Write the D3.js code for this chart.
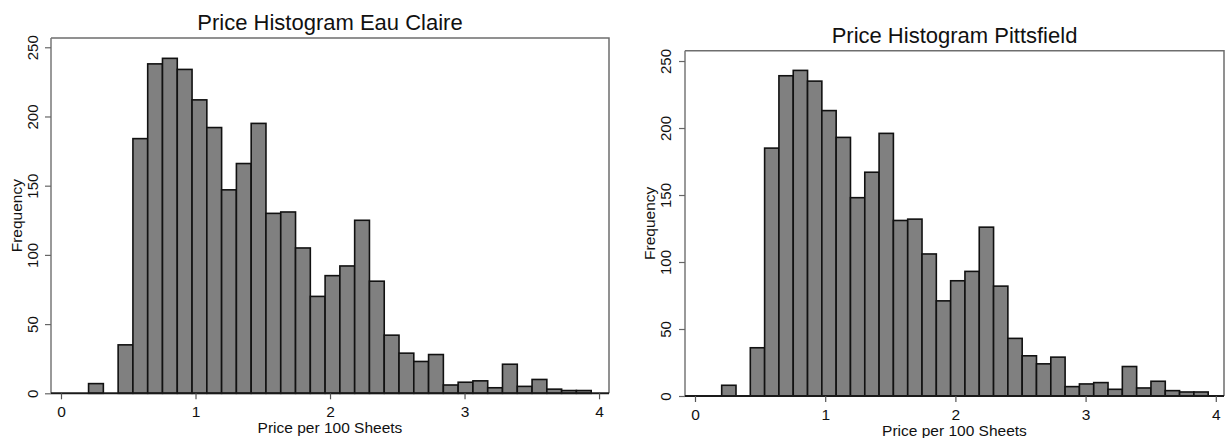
<!DOCTYPE html>
<html>
<head>
<meta charset="utf-8">
<script src="https://cdn.jsdelivr.net/npm/d3@7"></script>
<style>
  body { margin: 0; background: #fff; }
  svg { display: block; font-family: "Liberation Sans", Arial, sans-serif; }
</style>
</head>
<body>
<svg id="chart" width="1225" height="438"></svg>
<script>
// histogram bins: 34 bins starting at 0.205, width ~0.11
const binStart = 0.205;
const binWidth = 0.1099;

const eauClaireCounts = [7, 0, 35, 184, 238, 242, 234, 212, 192, 147, 166, 195, 130, 131, 105, 70, 85,
  92, 125, 81, 42, 29, 23, 28, 6, 8, 9, 4, 21, 5, 10, 3, 2, 2];
const pittsfieldCounts = [8, 0, 36, 185, 239, 243, 235, 213, 193, 148, 167, 196, 131, 132, 106, 71, 86,
  93, 126, 82, 43, 30, 24, 29, 7, 9, 10, 5, 22, 6, 11, 4, 3, 3];

const xTicks = [0, 1, 2, 3, 4];
const yTicks = [0, 50, 100, 150, 200, 250];
const titles = ['Price Histogram Eau Claire', 'Price Histogram Pittsfield'];
const xLabel = 'Price per 100 Sheets';
const yLabel = 'Frequency';

const svg = d3.select('#chart');

const drawHist = (counts, title, box) => {
  const x = d3.scaleLinear()
    .domain([box.x0val, box.x1val])
    .range([box.left, box.right]);
  const y = d3.scaleLinear()
    .domain([0, box.ymax])
    .range([box.bottom, box.top]);

  const g = svg.append('g');

  const bins = counts.map((c, i) => ({
    x0: binStart + i * binWidth,
    x1: binStart + (i + 1) * binWidth,
    count: c,
  })).filter(d => d.count > 0);

  g.selectAll('.bar')
    .data(bins)
  .enter().append('rect')
    .attr('class', 'bar')
    .attr('x', d => x(d.x0))
    .attr('width', d => x(d.x1) - x(d.x0))
    .attr('y', d => y(d.count))
    .attr('height', d => y(0) - y(d.count))
    .attr('fill', '#808080')
    .attr('stroke', '#111')
    .attr('stroke-width', 1.6);

  // frame top + right
  g.append('path')
    .attr('d', `M${box.left},${box.top}H${box.right}V${box.bottom}`)
    .attr('fill', 'none')
    .attr('stroke', '#6e6e6e')
    .attr('stroke-width', 1.5);

  const yAxis = g.append('g')
    .attr('transform', `translate(${box.left},0)`)
    .call(d3.axisLeft(y).tickValues(yTicks).tickFormat(d3.format('d')).tickSize(6).tickSizeOuter(0));
  yAxis.attr('font-family', null);
  yAxis.select('.domain')
    .attr('d', `M0,${box.top}V${box.bottom}`)
    .attr('stroke', '#777')
    .attr('stroke-width', 1.5);
  yAxis.selectAll('.tick line').attr('stroke', '#666').attr('stroke-width', 1.2);
  yAxis.selectAll('.tick text')
    .attr('x', 0)
    .attr('y', box.yTickOff)
    .attr('dy', 0)
    .attr('transform', 'rotate(-90)')
    .attr('text-anchor', 'middle')
    .attr('font-size', '15px')
    .attr('fill', '#111');

  const xAxis = g.append('g')
    .attr('transform', `translate(0,${box.bottom})`)
    .call(d3.axisBottom(x).tickValues(xTicks).tickFormat(d3.format('d')).tickSize(6).tickSizeOuter(0));
  xAxis.attr('font-family', null);
  xAxis.select('.domain')
    .attr('d', `M${box.left},0H${box.right}`)
    .attr('stroke', '#1a1a1a')
    .attr('stroke-width', 2);
  xAxis.selectAll('.tick line').attr('stroke', '#555').attr('stroke-width', 1.2);
  xAxis.selectAll('.tick text')
    .attr('y', box.xTickOff)
    .attr('dy', 0)
    .attr('font-size', '15.5px')
    .attr('fill', '#111');

  g.append('text')
    .attr('x', (box.left + box.right) / 2)
    .attr('y', box.titleY)
    .attr('text-anchor', 'middle')
    .attr('font-size', '22px')
    .attr('fill', '#111')
    .text(title);

  g.append('text')
    .attr('x', (box.left + box.right) / 2)
    .attr('y', box.xLabelY)
    .attr('text-anchor', 'middle')
    .attr('font-size', '15.5px')
    .attr('fill', '#111')
    .text(xLabel);

  g.append('text')
    .attr('transform', `translate(${box.yLabelX},${(box.top + box.bottom) / 2}) rotate(-90)`)
    .attr('text-anchor', 'middle')
    .attr('font-size', '15.5px')
    .attr('fill', '#111')
    .text(yLabel);
};

drawHist(eauClaireCounts, titles[0], {
  left: 51, right: 609, top: 38, bottom: 393.3,
  x0val: -0.0743, x1val: 4.074, ymax: 256.7,
  yTickOff: -13, xTickOff: 24, titleY: 30, xLabelY: 432.5, yLabelX: 22,
});

drawHist(pittsfieldCounts, titles[1], {
  left: 685, right: 1224, top: 50.7, bottom: 396,
  x0val: -0.0768, x1val: 4.063, ymax: 257.7,
  yTickOff: -14, xTickOff: 23.5, titleY: 43, xLabelY: 435.5, yLabelX: 655,
});
</script>
</body>
</html>
